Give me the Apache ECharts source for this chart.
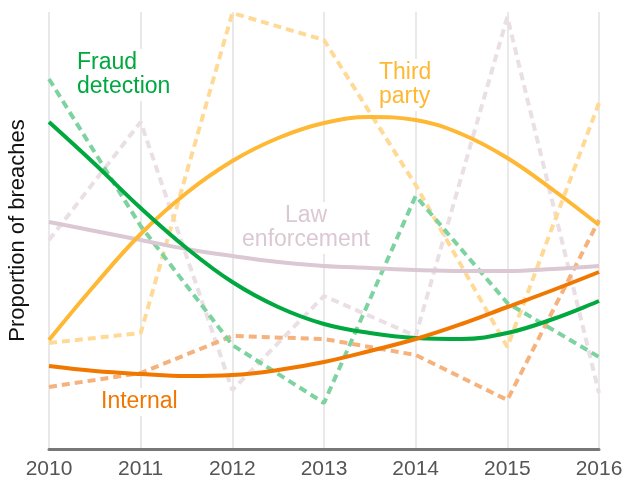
<!DOCTYPE html>
<html>
<head>
<meta charset="utf-8">
<script src="https://cdn.jsdelivr.net/npm/echarts@6/dist/echarts.min.js"></script>
<style>
  html, body { margin: 0; padding: 0; background: #fff; }
  #chart { width: 628px; height: 482px; }
</style>
</head>
<body>
<div id="chart"></div>
<script>
// yearly points for the raw (dashed) series
const years = [2010, 2011, 2012, 2013, 2014, 2015, 2016]
// half-year points for the trend (solid) curves
const trendYears = [2010, 2010.5, 2011, 2011.5, 2012, 2012.5, 2013, 2013.5, 2014, 2014.5, 2015, 2015.5, 2016]

// raw yearly values, height above the baseline
const fraudRaw = [370, 223, 104, 46, 253, 146, 92]
const lawRaw = [209, 327, 59, 153, 113, 432, 56]
const thirdRaw = [106, 116, 436, 409, 264, 102, 346]
const internalRaw = [62, 76, 113, 110, 94, 49, 229]

// trend values
const fraudTrend = [327, 285, 241, 201, 167, 142, 125, 116, 111, 110, 116, 130, 148]
const lawTrend = [227, 218, 209, 200, 193, 187, 183, 181, 179, 178, 178, 180, 183]
const thirdTrend = [109, 164, 215, 256, 288, 311, 326, 332, 329, 315, 291, 259, 224]
const internalTrend = [83, 78, 75, 73, 74, 79, 87, 98, 110, 125, 142, 159, 177]

const FONT = '"Liberation Sans", Arial, sans-serif'

const colors = {
  fraud: ['#00a83f', '#7dd3a0'],
  law: ['#dbc8d2', '#e9dfe4'],
  third: ['#ffb834', '#ffda96'],
  internal: ['#f07700', '#f6b27c']
}

const pairs = (xs, ys) => xs.map((x, i) => [x, ys[i]])

const dashed = (name, data, color) => ({
  name: name,
  type: 'line',
  data: pairs(years, data),
  symbol: 'none',
  z: 2,
  lineStyle: { color: color, width: 4, type: [8, 5], cap: 'butt' }
})

const solid = (name, data, color) => ({
  name: name,
  type: 'line',
  data: pairs(trendYears, data),
  symbol: 'none',
  smooth: 0.4,
  z: 3,
  lineStyle: { color: color, width: 4 }
})

const label = (text, x, y, color, align) => ({
  type: 'text',
  z: 1,
  x: x,
  y: y,
  style: {
    text: text,
    fill: color,
    font: '23px ' + FONT,
    lineHeight: 24,
    align: align || 'left',
    backgroundColor: '#fff',
    padding: [2, 4]
  }
})

const chart = echarts.init(document.getElementById('chart'))

chart.setOption({
  animation: false,
  grid: { left: 49, right: 29, top: 12, bottom: 33, outerBoundsMode: 'none', containLabel: false },
  xAxis: {
    type: 'value',
    min: 2010,
    max: 2016,
    interval: 1,
    axisLine: { lineStyle: { color: '#777', width: 3 } },
    axisTick: { show: false },
    axisLabel: {
      color: '#555',
      fontSize: 21,
      fontFamily: FONT,
      margin: 10,
      formatter: v => String(v)
    },
    splitLine: { show: true, lineStyle: { color: '#e9e9e9', width: 2 } }
  },
  yAxis: {
    type: 'value',
    min: 0,
    max: 437,
    name: 'Proportion of breaches',
    nameLocation: 'middle',
    nameGap: 20,
    nameTextStyle: { color: '#111', fontSize: 22, fontFamily: FONT },
    axisLine: { show: false },
    axisTick: { show: false },
    axisLabel: { show: false },
    splitLine: { show: false }
  },
  graphic: [
    label('Fraud\ndetection', 73, 49, colors.fraud[0]),
    label('Third\nparty', 375, 59, colors.third[0]),
    label('Law\nenforcement', 306, 202, colors.law[0], 'center'),
    label('Internal', 97, 388, colors.internal[0])
  ],
  series: [
    dashed('Law enforcement raw', lawRaw, colors.law[1]),
    dashed('Third party raw', thirdRaw, colors.third[1]),
    dashed('Internal raw', internalRaw, colors.internal[1]),
    dashed('Fraud detection raw', fraudRaw, colors.fraud[1]),
    solid('Law enforcement', lawTrend, colors.law[0]),
    solid('Third party', thirdTrend, colors.third[0]),
    solid('Fraud detection', fraudTrend, colors.fraud[0]),
    solid('Internal', internalTrend, colors.internal[0])
  ]
})
</script>
</body>
</html>
